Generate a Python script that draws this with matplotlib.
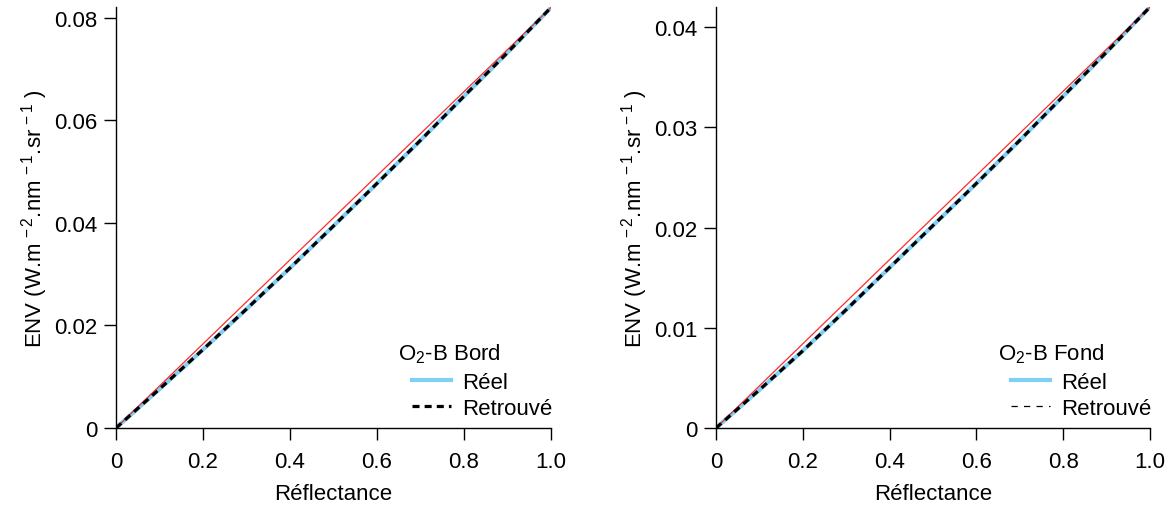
import matplotlib
matplotlib.use("Agg")
import matplotlib.pyplot as plt
from matplotlib.lines import Line2D

plt.rcParams['font.family'] = ['Liberation Sans', 'DejaVu Sans']
plt.rcParams['mathtext.fontset'] = 'custom'
plt.rcParams['mathtext.rm'] = 'Liberation Sans'
plt.rcParams['mathtext.it'] = 'Liberation Sans'
plt.rcParams['mathtext.default'] = 'regular'

# Data
reflectance = [0.0, 0.1, 0.2, 0.3, 0.4, 0.5, 0.6, 0.7, 0.8, 0.9, 1.0]

bord_red = [0.0, 0.0082, 0.0164, 0.0246, 0.0328, 0.0410, 0.0492, 0.0574, 0.0656, 0.0738, 0.0820]
bord_reel = [0.0, 0.0076, 0.0153, 0.0232, 0.0312, 0.0394, 0.0477, 0.0561, 0.0647, 0.0732, 0.0820]
bord_retrouve = [0.0, 0.0076, 0.0153, 0.0232, 0.0312, 0.0394, 0.0477, 0.0561, 0.0647, 0.0732, 0.0820]

fond_red = [0.0, 0.0042, 0.0084, 0.0126, 0.0168, 0.0210, 0.0252, 0.0294, 0.0336, 0.0378, 0.0420]
fond_reel = [0.0, 0.0038, 0.0077, 0.0118, 0.0160, 0.0202, 0.0244, 0.0287, 0.0331, 0.0375, 0.0420]
fond_retrouve = [0.0, 0.0038, 0.0077, 0.0118, 0.0160, 0.0202, 0.0244, 0.0287, 0.0331, 0.0375, 0.0420]

x_ticks = [0, 0.2, 0.4, 0.6, 0.8, 1.0]
x_labels = ["0", "0.2", "0.4", "0.6", "0.8", "1.0"]
bord_yticks = [0, 0.02, 0.04, 0.06, 0.08]
bord_ylabels = ["0", "0.02", "0.04", "0.06", "0.08"]
fond_yticks = [0, 0.01, 0.02, 0.03, 0.04]
fond_ylabels = ["0", "0.01", "0.02", "0.03", "0.04"]

BLUE = '#80cff5'
RED = '#ff2a2a'
FS = 16

fig = plt.figure(figsize=(11.73, 5.06), dpi=100)
ax1 = fig.add_axes([116/1173, 1-429/506, 435/1173, 421/506])
ax2 = fig.add_axes([716/1173, 1-429/506, 434/1173, 421/506])

ylabel = "ENV (W.m$^{\\,-2}$.nm$^{\\,-1}$.sr$^{\\,-1}$ )"

panels = [
    (ax1, bord_red, bord_reel, bord_retrouve, bord_yticks, bord_ylabels, 0.0821, "O$_2$-B Bord", 'thick'),
    (ax2, fond_red, fond_reel, fond_retrouve, fond_yticks, fond_ylabels, 0.0420, "O$_2$-B Fond", 'thin'),
]

for ax, red, reel, retr, yt, yl, ymax, title, dstyle in panels:
    ax.plot(reflectance, reel, color=BLUE, lw=3.0, solid_capstyle='butt')
    ax.plot(reflectance, red, color=RED, lw=0.9)
    ax.plot(reflectance, retr, color='black', lw=2.3, ls=(0, (2.2, 1.6)))
    ax.set_xlim(0, 1.0)
    ax.set_ylim(0, ymax)
    ax.set_xticks(x_ticks)
    ax.set_xticklabels(x_labels)
    ax.set_yticks(yt)
    ax.set_yticklabels(yl)
    for s in ['top', 'right']:
        ax.spines[s].set_visible(False)
    for s in ['left', 'bottom']:
        ax.spines[s].set_linewidth(1.0)
    ax.tick_params(direction='out', length=8.5, width=1.0, labelsize=FS)
    ax.tick_params(axis='x', pad=8)
    ax.tick_params(axis='y', pad=5)
    ax.set_xlabel("Réflectance", fontsize=FS, labelpad=8)
    ax.set_ylabel(ylabel, fontsize=FS, labelpad=3)
    if dstyle == 'thick':
        h2 = Line2D([], [], color='black', lw=2.3, ls=(0, (2.2, 1.6)))
    else:
        h2 = Line2D([], [], color='black', lw=0.9, ls=(0, (5, 5)))
    h1 = Line2D([], [], color=BLUE, lw=3.0)
    ax.legend([h1, h2], ["Réel", "Retrouvé"], loc='lower right',
              bbox_to_anchor=(1.024, 0.0), frameon=False, fontsize=FS,
              handlelength=1.75, handletextpad=0.5,
              borderaxespad=0.0, labelspacing=0.25)
    ax.text(0.649, 0.178, title, transform=ax.transAxes, fontsize=FS,
            ha='left', va='center')

fig.savefig("out.png", dpi=100)
